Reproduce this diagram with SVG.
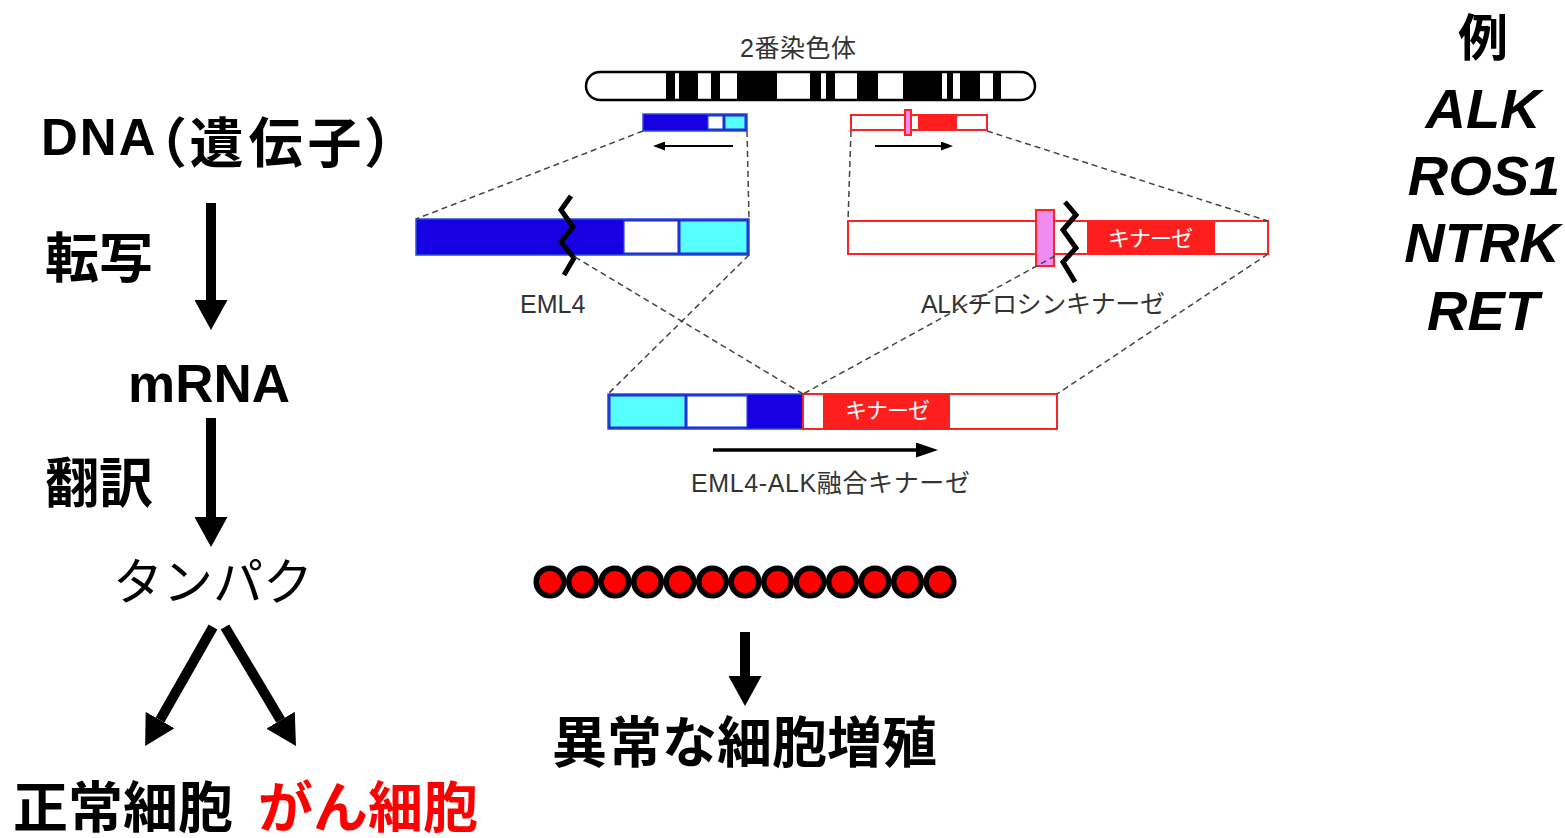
<svg xmlns="http://www.w3.org/2000/svg" width="1565" height="838" viewBox="0 0 1565 838">
  <style>
    .big { font-family: 'Liberation Sans', 'Noto Sans CJK JP', sans-serif; font-weight: bold; fill: #000; }
    .gene { font-family: 'Liberation Sans', 'Noto Sans CJK JP', sans-serif; font-weight: bold; font-style: italic; font-size: 56px; fill: #000; }
    .lbl { font-family: 'Liberation Sans', 'Noto Sans CJK JP', sans-serif; font-size: 25px; fill: #333; }
    .kin { font-family: 'Noto Sans CJK JP', sans-serif; font-size: 22px; fill: #fff; }
    .prop { font-family: 'Noto Sans CJK JP', sans-serif; font-feature-settings: 'palt'; }
    .dash { stroke: #444; stroke-width: 1.5; stroke-dasharray: 6 4; fill: none; }
    .thick { stroke: #000; stroke-width: 10; fill: none; }
    .thin { stroke: #000; stroke-width: 2; fill: none; }
    .zig { stroke: #000; stroke-width: 5; fill: none; stroke-linejoin: miter; }
    .dkblue { fill: #1700e2; stroke: #2a4fd6; stroke-width: 1.5; }
    .cyan { fill: #55ffff; stroke: #2a4fd6; stroke-width: 1.2; }
    .wblue { fill: #fff; stroke: #2a4fd6; stroke-width: 1.2; }
    .rbox { fill: #fff; stroke: #ff2222; stroke-width: 2; }
    .rfill { fill: #ff1e1e; }
    .pink { fill: #f08cf0; stroke: #ff2222; stroke-width: 2; }
    .band { fill: #000; }
    .cell { fill: #ff0000; stroke: #000; stroke-width: 5.5; }
  </style>
  <defs>
    <marker id="bigHead" viewBox="0 0 30 33" refX="0" refY="16.5" markerWidth="30" markerHeight="33" markerUnits="userSpaceOnUse" orient="auto">
      <path d="M0,0 L30,16.5 L0,33 z" fill="#000"/>
    </marker>
    <marker id="smallHead" viewBox="0 0 12 9" refX="0" refY="4.5" markerWidth="12" markerHeight="9" markerUnits="userSpaceOnUse" orient="auto">
      <path d="M0,0 L12,4.5 L0,9 z" fill="#000"/>
    </marker>
    <marker id="midHead" viewBox="0 0 22 15" refX="0" refY="7.5" markerWidth="22" markerHeight="15" markerUnits="userSpaceOnUse" orient="auto">
      <path d="M0,0 L22,7.5 L0,15 z" fill="#000"/>
    </marker>
  </defs>
  <rect width="1565" height="838" fill="#fff"/>

  <!-- left column: central dogma -->
  <g id="dna">
    <text class="big" x="41" y="155"><tspan font-size="51" letter-spacing="2">DNA</tspan><tspan class="prop" dy="8" font-size="54" letter-spacing="5">（遺伝子）</tspan></text>
  </g>
  <g id="transcription"><text class="big" x="45" y="278" font-size="54">転写</text></g>
  <g id="mrna"><text class="big" x="128" y="402" font-size="53">mRNA</text></g>
  <g id="translation"><text class="big" x="45" y="503" font-size="54">翻訳</text></g>
  <g id="protein"><text class="big" x="113" y="600" font-size="50" style="font-weight:normal">タンパク</text></g>
  <g id="normal-cell"><text class="big" x="13" y="827" font-size="55">正常細胞</text></g>
  <g id="cancer-cell"><text class="big" x="258" y="827" font-size="55" style="fill:#ff0000">がん細胞</text></g>

  <!-- right column: examples -->
  <g id="examples">
    <text class="big" x="1483" y="56" font-size="50" text-anchor="middle">例</text>
    <text class="gene" x="1483" y="128" text-anchor="middle">ALK</text>
    <text class="gene" x="1484" y="195" text-anchor="middle">ROS1</text>
    <text class="gene" x="1482" y="262" text-anchor="middle">NTRK</text>
    <text class="gene" x="1483" y="330" text-anchor="middle">RET</text>
  </g>

  <!-- chromosome 2 -->
  <g id="chromosome">
    <text class="lbl" x="740" y="57" font-size="23" textLength="116">2番染色体</text>
    <rect x="586" y="72" width="449" height="28" rx="14" fill="#fff"/>
    <rect class="band" x="666" y="72" width="9" height="28"/>
    <rect class="band" x="679" y="72" width="19" height="28"/>
    <rect class="band" x="711" y="72" width="9" height="28"/>
    <rect class="band" x="737" y="72" width="40" height="28"/>
    <rect class="band" x="810" y="72" width="11" height="28"/>
    <rect class="band" x="826" y="72" width="9" height="28"/>
    <rect class="band" x="857" y="72" width="21" height="28"/>
    <rect class="band" x="903" y="72" width="39" height="28"/>
    <rect class="band" x="947" y="72" width="6" height="28"/>
    <rect class="band" x="960" y="72" width="20" height="28"/>
    <rect class="band" x="993" y="72" width="8" height="28"/>
    <rect x="586" y="72" width="449" height="28" rx="14" fill="none" stroke="#000" stroke-width="2.5"/>
  </g>

  <!-- EML4 locus on the chromosome -->
  <g id="eml4-locus">
    <rect class="dkblue" x="643" y="114" width="104" height="17"/>
    <rect class="wblue" x="708" y="116" width="15" height="13"/>
    <rect class="cyan" x="725" y="116" width="20" height="13"/>
  </g>

  <!-- ALK locus on the chromosome -->
  <g id="alk-locus">
    <rect class="rbox" x="851" y="115" width="136" height="15"/>
    <rect class="rfill" x="918" y="116" width="39" height="13"/>
    <rect class="pink" x="905" y="110" width="6" height="25" stroke-width="1.5"/>
  </g>

  <!-- EML4 gene -->
  <g id="eml4">
    <rect class="dkblue" x="416" y="219" width="333" height="36"/>
    <rect class="wblue" x="624" y="221" width="54" height="32"/>
    <rect class="cyan" x="680" y="221" width="67" height="32"/>
    <polyline class="zig" points="571,196 561,210 573,227 561,242 574,258 564,275"/>
    <text class="lbl" x="520" y="313">EML4</text>
  </g>

  <!-- ALK gene -->
  <g id="alk">
    <rect class="rbox" x="848" y="221" width="420" height="33"/>
    <rect class="rfill" x="1087" y="222" width="128" height="31"/>
    <text class="kin" x="1108" y="246" textLength="85">キナーゼ</text>
    <rect class="pink" x="1036" y="210" width="18" height="56"/>
    <polyline class="zig" points="1065,202 1076,215 1063,230 1076,248 1063,262 1075,282"/>
    <text class="lbl" x="921" y="313" textLength="244">ALKチロシンキナーゼ</text>
  </g>

  <!-- EML4-ALK fusion gene -->
  <g id="fusion">
    <rect class="dkblue" x="608" y="394" width="195" height="35"/>
    <rect class="cyan" x="610" y="396" width="75" height="31"/>
    <rect class="wblue" x="687" y="396" width="60" height="31"/>
    <rect class="rbox" x="803" y="394" width="254" height="35"/>
    <rect class="rfill" x="823" y="395" width="127" height="33"/>
    <text class="kin" x="845" y="418" textLength="85">キナーゼ</text>
    <text class="lbl" x="691" y="492" textLength="279">EML4-ALK融合キナーゼ</text>
  </g>

  <!-- proliferating cells -->
  <g id="cells">
    <circle class="cell" cx="550" cy="582" r="13.75"/>
    <circle class="cell" cx="582.5" cy="582" r="13.75"/>
    <circle class="cell" cx="615" cy="582" r="13.75"/>
    <circle class="cell" cx="647.5" cy="582" r="13.75"/>
    <circle class="cell" cx="680" cy="582" r="13.75"/>
    <circle class="cell" cx="712.5" cy="582" r="13.75"/>
    <circle class="cell" cx="745" cy="582" r="13.75"/>
    <circle class="cell" cx="777.5" cy="582" r="13.75"/>
    <circle class="cell" cx="810" cy="582" r="13.75"/>
    <circle class="cell" cx="842.5" cy="582" r="13.75"/>
    <circle class="cell" cx="875" cy="582" r="13.75"/>
    <circle class="cell" cx="907.5" cy="582" r="13.75"/>
    <circle class="cell" cx="940" cy="582" r="13.75"/>
  </g>
  <g id="abnormal-growth"><text class="big" x="552" y="762" font-size="55">異常な細胞増殖</text></g>

  <!-- connectors -->
  <g id="connectors">
    <line class="thick" x1="211" y1="203" x2="211" y2="300" marker-end="url(#bigHead)"/>
    <line class="thick" x1="211" y1="418" x2="211" y2="517" marker-end="url(#bigHead)"/>
    <line class="thick" x1="213" y1="627" x2="160" y2="720" marker-end="url(#bigHead)"/>
    <line class="thick" x1="225" y1="627" x2="280.6" y2="720.2" marker-end="url(#bigHead)"/>
    <line class="thick" x1="745" y1="632" x2="745" y2="676" marker-end="url(#bigHead)"/>

    <line class="thin" x1="733" y1="146" x2="665" y2="146" marker-end="url(#smallHead)"/>
    <line class="thin" x1="875" y1="146" x2="941" y2="146" marker-end="url(#smallHead)"/>
    <line x1="713" y1="450" x2="916" y2="450" stroke="#000" stroke-width="3.5" marker-end="url(#midHead)"/>

    <line class="dash" x1="643" y1="131" x2="416" y2="219"/>
    <line class="dash" x1="747" y1="131" x2="749" y2="219"/>
    <line class="dash" x1="851" y1="131" x2="848" y2="221"/>
    <line class="dash" x1="987" y1="131" x2="1268" y2="221"/>
    <line class="dash" x1="575" y1="257" x2="803" y2="394"/>
    <line class="dash" x1="749" y1="255" x2="608" y2="394"/>
    <line class="dash" x1="1055" y1="256" x2="803" y2="394"/>
    <line class="dash" x1="1268" y1="254" x2="1057" y2="394"/>
  </g>
</svg>
